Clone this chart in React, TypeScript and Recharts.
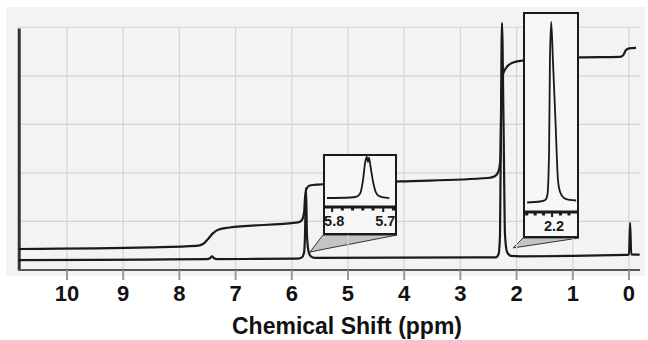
import React from 'react';
import { ComposedChart, LineChart, Line, Area, XAxis, YAxis, CartesianGrid, ReferenceLine } from 'recharts';

const FONT = '"Liberation Sans", Arial, sans-serif';
const INK = '#1a1a1a';

// 1H 스펙트럼 (ppm, 세기) - 스캔 이미지에서 읽은 값
const specPpm = [10.87, 8.6, 7.51, 7.46, 7.42, 7.38, 7.33, 5.89, 5.82, 5.78, 5.765, 5.747, 5.73, 5.7, 5.66, 5.59, 2.37, 2.32, 2.295, 2.278, 2.26, 2.233, 2.206, 2.17, 2.1, 1.94, 0.05, 0.0, -0.02, -0.04, -0.19];
const specVal = [4.1, 4.3, 4.5, 4.8, 5.6, 4.8, 4.5, 4.7, 5.2, 7.4, 14.4, 33.8, 14.4, 7.4, 5.6, 5.0, 5.2, 6.6, 14.4, 61.8, 101.8, 61.8, 14.4, 7.4, 5.8, 5.6, 6.2, 6.4, 19.4, 6.4, 6.3];

// 적분 곡선
const integralPpm = [10.87, 8.52, 7.7, 7.58, 7.49, 7.4, 7.3, 7.11, 5.89, 5.82, 5.78, 5.765, 5.74, 5.68, 5.53, 4.07, 2.51, 2.38, 2.32, 2.29, 2.27, 2.25, 2.19, 2.06, 1.89, 0.87, 0.16, 0.107, 0.053, 0.0, -0.125];
const integralVal = [8.65, 9.3, 9.9, 10.7, 12.8, 15.2, 16.7, 17.5, 19.6, 20.6, 23.9, 29.7, 33.4, 34.8, 35.2, 36.5, 37.9, 38.7, 40.8, 45.3, 70.0, 79.9, 83.2, 85.5, 86.3, 87.6, 87.8, 88.4, 90.6, 91.3, 91.5];

const ppmTicks = [10, 9, 8, 7, 6, 5, 4, 3, 2, 1, 0];
const gridLevels = [20, 40, 60, 80, 100];

// 확대 삽입도: 5.73 ppm 피크
const olefinPpm = [5.81, 5.765, 5.752, 5.745, 5.74, 5.735, 5.732, 5.73, 5.728, 5.725, 5.72, 5.715, 5.709, 5.7, 5.688];
const olefinVal = [17.6, 18.6, 20.5, 27, 50, 90, 98, 88, 97, 80, 50, 30, 22, 18.8, 17.6];
const olefinTicks = [5.8, 5.78, 5.76, 5.74, 5.72, 5.7, 5.68];
const olefinMajors = [5.8, 5.7];

// 확대 삽입도: 2.2 ppm 피크
const methylPpm = [2.259, 2.228, 2.216, 2.211, 2.207, 2.205, 2.202, 2.198, 2.192, 2.186, 2.181, 2.172, 2.158, 2.143];
const methylVal = [4.8, 5.3, 6.1, 8.6, 31.3, 76.8, 96, 76.8, 46.5, 16.2, 10.1, 7.1, 6.1, 5.8];
const methylTicks = [2.26, 2.24, 2.22, 2.2, 2.18, 2.16];
const methylMajors = [2.2];

// 삽입도와 피크를 잇는 쐐기 (ppm, 아래, 위)
const olefinWedgePpm = [5.676, 5.445, 4.128];
const olefinWedgeLow = [7.4, 8.5, 14.4];
const olefinWedgeHigh = [7.4, 14.4, 14.4];
const methylWedgePpm = [2.064, 1.886, 0.89];
const methylWedgeLow = [9.1, 9.7, 13.2];
const methylWedgeHigh = [9.1, 13.2, 13.2];

const zip = (xs: number[], ys: number[]) => xs.map((ppm, i) => ({ ppm, v: ys[i] }));
const wedge = (xs: number[], lo: number[], hi: number[]) => xs.map((ppm, i) => ({ ppm, range: [lo[i], hi[i]] }));

const spectrum = zip(specPpm, specVal);
const integral = zip(integralPpm, integralVal);

const InsetTick = (props: any, majors: number[]) => {
  const { x, y, payload } = props;
  const isMajor = majors.some(m => Math.abs(m - payload.value) < 1e-6);
  if (!isMajor) {
    return <rect x={x - 1.5} y={y} width={3} height={3.5} fill={INK} />;
  }
  return (
    <g>
      <line x1={x} x2={x} y1={y} y2={y + 5} stroke={INK} strokeWidth={2} />
      <text x={x + 2} y={y + 19} textAnchor="middle" fontSize={14.5} fontWeight={700} fontFamily={FONT} fill={INK}>
        {payload.value.toFixed(1)}
      </text>
    </g>
  );
};

interface InsetProps {
  left: number;
  top: number;
  width: number;
  height: number;
  axisHeight: number;
  domain: [number, number];
  ppm: number[];
  values: number[];
  ticks: number[];
  majors: number[];
}

const Inset = ({ left, top, width, height, axisHeight, domain, ppm, values, ticks, majors }: InsetProps) => (
  <div
    style={{
      position: 'absolute', left, top, width, height, boxSizing: 'border-box',
      border: `2px solid ${INK}`, background: '#f7f7f7',
    }}
  >
    <LineChart width={width - 4} height={height - 4} data={zip(ppm, values)} margin={{ top: 0, right: 0, bottom: 0, left: 0 }}>
      <XAxis
        dataKey="ppm"
        type="number"
        domain={domain}
        reversed
        allowDataOverflow
        ticks={ticks}
        interval={0}
        height={axisHeight}
        tickSize={0}
        tickMargin={0}
        tickLine={false}
        axisLine={{ stroke: INK, strokeWidth: 3 }}
        tick={(p: any) => InsetTick(p, majors)}
      />
      <YAxis hide type="number" domain={[0, 100]} />
      <Line dataKey="v" type="monotone" stroke={INK} strokeWidth={1.8} dot={false} isAnimationActive={false} />
    </LineChart>
  </div>
);

export default function App() {
  return (
    <div style={{ position: 'absolute', left: 0, top: 0, width: 648, height: 340, background: '#fff', fontFamily: FONT }}>
      {/* 스캔 배경 */}
      <div style={{ position: 'absolute', left: 6, top: 7, width: 639, height: 269, background: '#f3f3f3' }} />

      <div style={{ position: 'absolute', left: 0, top: 0 }}>
        <ComposedChart width={648} height={340} margin={{ top: 3, right: 8, bottom: 0, left: 18 }}>
          <CartesianGrid vertical={false} horizontalValues={gridLevels} stroke="#d4d4d4" strokeWidth={1.2} />
          {ppmTicks.map(p => (
            <ReferenceLine key={p} segment={[{ x: p, y: 0 }, { x: p, y: 100 }]} stroke="#d4d4d4" strokeWidth={1.2} />
          ))}
          <ReferenceLine segment={[{ x: 10.85, y: 0 }, { x: 10.85, y: 99.5 }]} stroke="#333" strokeWidth={3} />

          <XAxis
            dataKey="ppm"
            type="number"
            domain={[-0.196, 10.872]}
            reversed
            allowDataOverflow
            ticks={ppmTicks}
            interval={0}
            height={70}
            tickSize={10}
            tickMargin={5}
            axisLine={{ stroke: '#555', strokeWidth: 2 }}
            tickLine={{ stroke: '#999', strokeWidth: 2 }}
            tick={{ fill: '#111', fontSize: 22, fontWeight: 700, fontFamily: FONT }}
            label={{
              value: 'Chemical Shift (ppm)', position: 'insideBottom', offset: 6, dx: 18,
              fill: '#111', fontSize: 23, fontWeight: 700, fontFamily: FONT,
            }}
          />
          <YAxis hide type="number" domain={[0, 110]} allowDataOverflow />

          <Area data={wedge(olefinWedgePpm, olefinWedgeLow, olefinWedgeHigh)} dataKey="range" type="linear"
            stroke="#333" strokeWidth={1} fill="#c4c4c4" fillOpacity={1} isAnimationActive={false} />
          <Area data={wedge(methylWedgePpm, methylWedgeLow, methylWedgeHigh)} dataKey="range" type="linear"
            stroke="#333" strokeWidth={1} fill="#c4c4c4" fillOpacity={1} isAnimationActive={false} />

          <Line data={integral} dataKey="v" type="monotone" stroke={INK} strokeWidth={2.2} dot={false} isAnimationActive={false} />
          <Line data={spectrum} dataKey="v" type="monotone" stroke={INK} strokeWidth={2.2} dot={false} isAnimationActive={false} />
        </ComposedChart>
      </div>

      <Inset left={323} top={154} width={74} height={81} axisHeight={26} domain={[5.677, 5.814]}
        ppm={olefinPpm} values={olefinVal} ticks={olefinTicks} majors={olefinMajors} />
      <Inset left={523} top={12} width={56} height={226} axisHeight={24} domain={[2.141, 2.264]}
        ppm={methylPpm} values={methylVal} ticks={methylTicks} majors={methylMajors} />
    </div>
  );
}
